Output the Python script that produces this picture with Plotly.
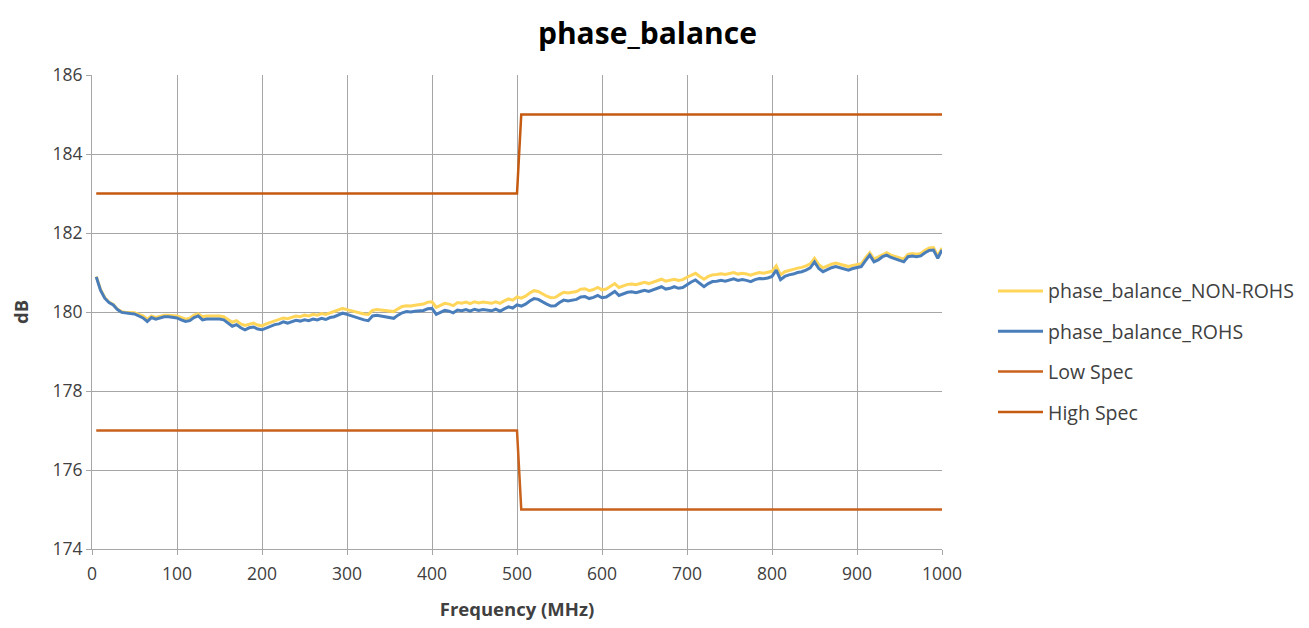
import plotly.graph_objects as go

freq = list(range(5, 1001, 5))

rohs = [
    180.89, 180.55, 180.35, 180.24, 180.18, 180.06, 179.99, 179.97, 179.96, 179.95,
    179.90, 179.85, 179.76, 179.86, 179.82, 179.86, 179.88, 179.88, 179.87, 179.85,
    179.80, 179.76, 179.78, 179.86, 179.90, 179.80, 179.82, 179.82, 179.82, 179.82,
    179.80, 179.72, 179.64, 179.68, 179.60, 179.55, 179.60, 179.62, 179.57, 179.55,
    179.60, 179.64, 179.68, 179.70, 179.75, 179.72, 179.76, 179.79, 179.77, 179.80,
    179.78, 179.82, 179.80, 179.84, 179.81, 179.86, 179.88, 179.92, 179.97, 179.94,
    179.90, 179.86, 179.84, 179.80, 179.78, 179.90, 179.92, 179.90, 179.88, 179.86,
    179.84, 179.92, 179.98, 180.01, 180.00, 180.02, 180.03, 180.04, 180.08, 180.09,
    179.94, 179.98, 180.04, 180.02, 179.98, 180.05, 180.03, 180.06, 180.02, 180.07,
    180.04, 180.06, 180.05, 180.03, 180.07, 180.02, 180.08, 180.13, 180.10, 180.18,
    180.15, 180.20, 180.28, 180.34, 180.32, 180.25, 180.20, 180.15, 180.16, 180.24,
    180.30, 180.28, 180.30, 180.32, 180.38, 180.39, 180.34, 180.37, 180.42, 180.36,
    180.38, 180.46, 180.52, 180.42, 180.46, 180.50, 180.51, 180.49, 180.52, 180.55,
    180.52, 180.56, 180.58, 180.64, 180.58, 180.60, 180.64, 180.60, 180.62, 180.70,
    180.76, 180.81, 180.72, 180.64, 180.72, 180.77, 180.78, 180.80, 180.78, 180.81,
    180.84, 180.80, 180.82, 180.80, 180.77, 180.82, 180.85, 180.84, 180.86, 180.90,
    181.06, 180.82, 180.90, 180.94, 180.96, 181.00, 181.02, 181.06, 181.12, 181.27,
    181.10, 181.02, 181.08, 181.12, 181.15, 181.12, 181.08, 181.06, 181.10, 181.12,
    181.15, 181.30, 181.44, 181.27, 181.32, 181.40, 181.44, 181.38, 181.34, 181.30,
    181.27, 181.40, 181.42, 181.40, 181.42, 181.50, 181.56, 181.57, 181.36, 181.57,
]

non_rohs = [
    180.90, 180.57, 180.37, 180.25, 180.19, 180.07, 180.01, 179.99, 179.99, 179.98,
    179.94, 179.90, 179.82, 179.90, 179.86, 179.90, 179.92, 179.92, 179.91, 179.90,
    179.86, 179.82, 179.84, 179.92, 179.95, 179.88, 179.90, 179.90, 179.90, 179.90,
    179.88, 179.80, 179.74, 179.78, 179.70, 179.66, 179.70, 179.72, 179.67, 179.65,
    179.70, 179.74, 179.78, 179.80, 179.85, 179.83, 179.87, 179.90, 179.88, 179.92,
    179.90, 179.94, 179.92, 179.96, 179.94, 179.98, 180.00, 180.04, 180.09, 180.06,
    180.03, 180.00, 179.98, 179.95, 179.94, 180.04, 180.06, 180.05, 180.03, 180.02,
    180.01, 180.08, 180.14, 180.16, 180.15, 180.17, 180.18, 180.20, 180.25, 180.26,
    180.12, 180.16, 180.22, 180.20, 180.16, 180.24, 180.22, 180.25, 180.21, 180.26,
    180.23, 180.25, 180.24, 180.22, 180.26, 180.22, 180.28, 180.33, 180.30, 180.38,
    180.35, 180.40, 180.48, 180.54, 180.52, 180.45, 180.40, 180.36, 180.37, 180.44,
    180.50, 180.48, 180.50, 180.52, 180.58, 180.59, 180.54, 180.57, 180.62, 180.56,
    180.58, 180.66, 180.72, 180.62, 180.66, 180.70, 180.71, 180.69, 180.72, 180.75,
    180.72, 180.76, 180.78, 180.83, 180.78, 180.80, 180.83, 180.80, 180.82, 180.88,
    180.94, 180.98, 180.90, 180.83, 180.90, 180.94, 180.95, 180.97, 180.95, 180.97,
    181.00, 180.96, 180.98, 180.96, 180.93, 180.97, 181.00, 180.98, 181.00, 181.03,
    181.17, 180.94, 181.02, 181.06, 181.08, 181.11, 181.13, 181.17, 181.22, 181.36,
    181.20, 181.12, 181.17, 181.21, 181.24, 181.21, 181.17, 181.15, 181.18, 181.20,
    181.22, 181.37, 181.50, 181.34, 181.39, 181.46, 181.50, 181.44, 181.40, 181.36,
    181.34, 181.46, 181.48, 181.46, 181.48, 181.56, 181.62, 181.63, 181.42, 181.62,
]

spec_freq = [5, 500, 505, 1000]
low_spec = [177, 177, 175, 175]
high_spec = [183, 183, 185, 185]

fig = go.Figure()
fig.add_trace(go.Scatter(x=freq, y=non_rohs, mode="lines", name="phase_balance_NON-ROHS",
                         line=dict(color="#FFD55A", width=3), legendgroup="a"))
fig.add_trace(go.Scatter(x=freq, y=rohs, mode="lines", name="phase_balance_ROHS",
                         line=dict(color="#4A7EBB", width=3), legendgroup="b"))
fig.add_trace(go.Scatter(x=spec_freq, y=low_spec, mode="lines", name="Low Spec",
                         line=dict(color="#C9621C", width=2.5), legendgroup="c"))
fig.add_trace(go.Scatter(x=spec_freq, y=high_spec, mode="lines", name="High Spec",
                         line=dict(color="#C55A11", width=2.5), legendgroup="d"))

font_family = "Open Sans, sans-serif"
fig.update_layout(
    width=1309, height=628,
    margin=dict(l=84, r=375, t=67, b=87),
    paper_bgcolor="white", plot_bgcolor="white",
    font=dict(family=font_family, size=16, color="#404040"),
    title=dict(text="<b>phase_balance</b>", x=0.4885, xanchor="center", y=0.96, yanchor="middle",
               font=dict(size=30, color="#000000", family=font_family)),
    legend=dict(x=1.06, xanchor="left", y=0.585, yanchor="top", tracegroupgap=12,
                itemwidth=45,
                font=dict(size=19.5, color="#404040", family=font_family),
                bgcolor="rgba(0,0,0,0)"),
    showlegend=True,
)
fig.update_xaxes(range=[0, 1000], dtick=100, tick0=0, showgrid=True, gridcolor="#A6A6A6", gridwidth=1,
                 showline=True, linecolor="#A6A6A6", linewidth=1, ticks="outside", ticklen=5,
                 tickcolor="#A6A6A6", zeroline=False, ticklabelstandoff=4,
                 title=dict(text="<b>Frequency (MHz)</b>", font=dict(size=18.5, color="#404040"), standoff=19),
                 tickfont=dict(size=17.5, color="#404040"))
fig.update_yaxes(range=[174, 186], dtick=2, tick0=174, showgrid=True, gridcolor="#A6A6A6", gridwidth=1,
                 showline=True, linecolor="#A6A6A6", linewidth=1, ticks="outside", ticklen=5,
                 tickcolor="#A6A6A6", zeroline=False,
                 title=dict(text="<b>dB</b>", font=dict(size=18.5, color="#404040"), standoff=18),
                 tickfont=dict(size=17.5, color="#404040"))

fig.write_html("out.html")
